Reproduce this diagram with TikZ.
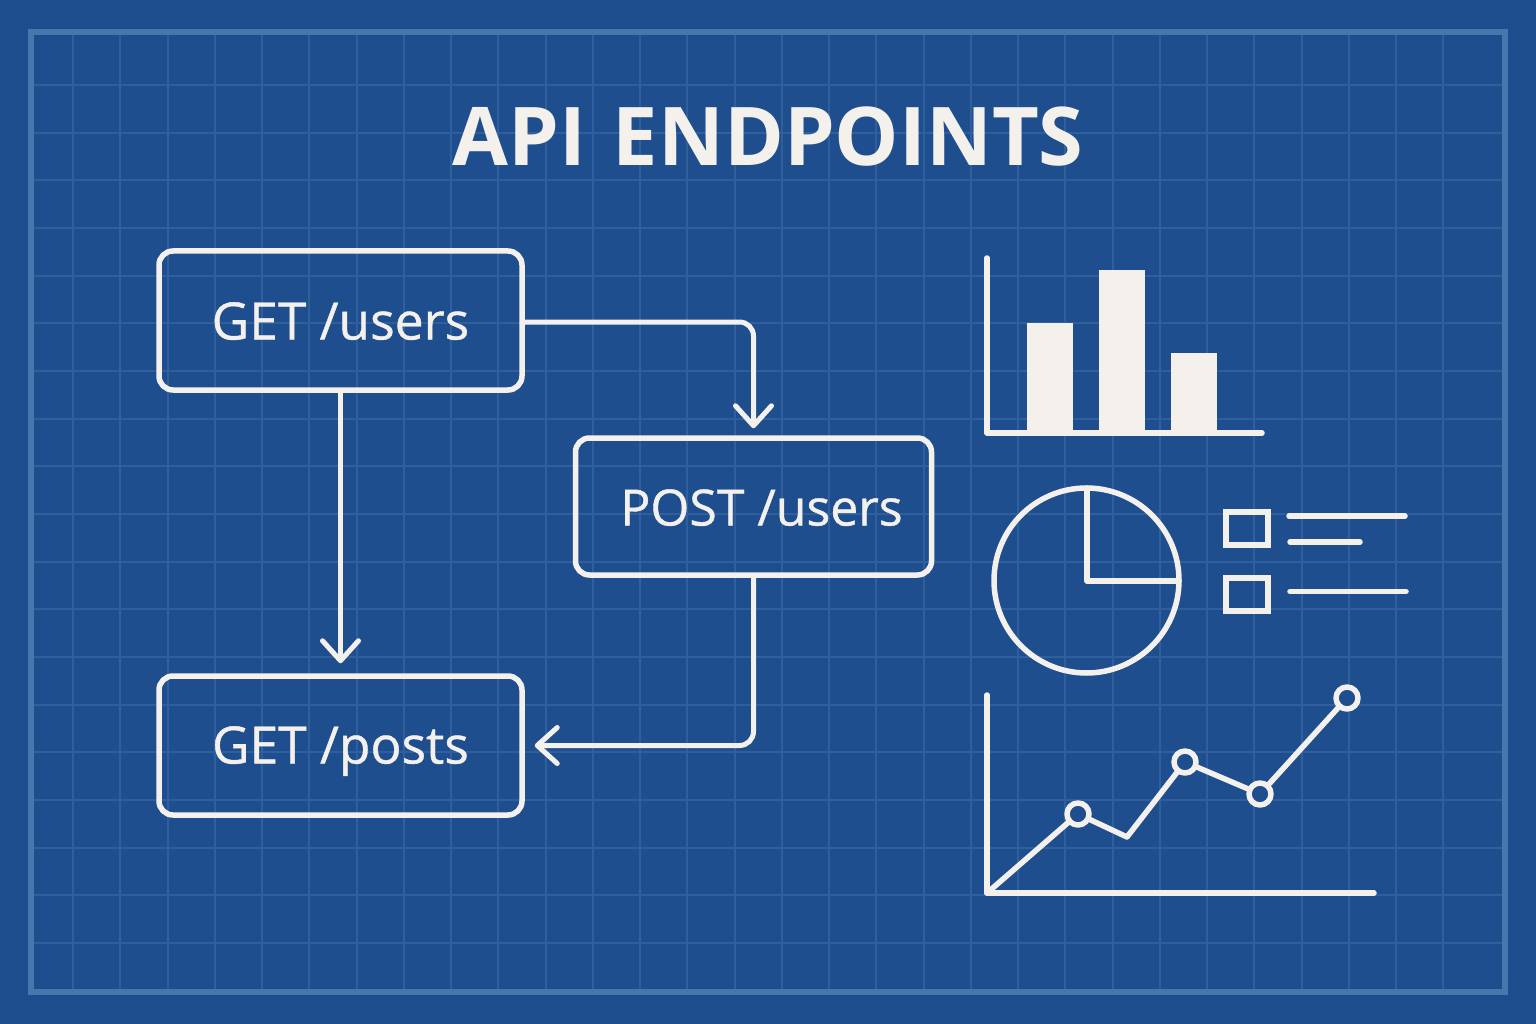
\documentclass[tikz,border=0pt]{standalone}
\usepackage{fontspec}
\setmainfont{Open Sans}
\newfontfamily\labelfont[FakeBold=0.8]{Open Sans}
\usetikzlibrary{arrows.meta}
\definecolor{paper}{HTML}{1F4E8F}
\definecolor{gridline}{HTML}{2F5F9D}
\definecolor{frameline}{HTML}{4A76AE}
\definecolor{chalk}{HTML}{F4F1EC}
\begin{document}
\begin{tikzpicture}[x=1pt,y=-1pt,
        box/.style={draw=chalk,line width=5.5pt,rounded corners=14pt,minimum width=363pt,minimum height=139pt,text=chalk,text height=44pt,text depth=6pt,font=\labelfont\fontsize{51.5}{54}\selectfont},
        link/.style={draw=chalk,line width=5pt,rounded corners=14pt,shorten >=10pt,-{Straight Barb[length=20pt,width=36pt,round]}},
        ink/.style={draw=chalk,line width=5.5pt,line cap=round,line join=round},
        dot/.style={ink,fill=paper}]
        \useasboundingbox (0,0) rectangle (1536,1024);
        \fill[paper] (0,0) rectangle (1536,1024);
        \foreach \k in {0,...,29} \draw[gridline,line width=2pt] (73+47.25*\k,33) -- (73+47.25*\k,990);
        \foreach \k in {0,...,18} \draw[gridline,line width=2pt] (33,85+47.67*\k) -- (1503,85+47.67*\k);
        \draw[frameline,line width=6pt] (31,32) rectangle (1505,991.5);
        \node (title) at (768,137) {\fontsize{81}{90}\selectfont\bfseries\color{chalk}API\hspace{6pt} ENDPOINTS};
        \node[box] (getusers) at (340.5,320.5) {GET /users};
        \node[box,minimum width=356pt,minimum height=137pt,font=\labelfont\fontsize{50}{54}\selectfont] (postusers) at (753.5,506.5) {\hspace{16pt}POST /users};
        \node[box,text height=42pt] (getposts) at (340.5,745.5) {GET /posts};
        \draw[link,shorten >=7pt] ([yshift=-1.5pt]getusers.east) -| (postusers.north);
        \draw[link] (getusers.south) -- (getposts.north);
        \draw[link] (postusers.south) |- (getposts.east);
        % bars
        \draw[ink] (987,258) -- (987,433) -- (1262,433);
        \foreach \x/\t in {1027/323,1099/270,1171/353} \fill[chalk] (\x,\t) rectangle (\x+46,432);
        % pie
        \draw[ink] (1086.5,580.5) circle (92.5);
        \draw[ink] (1087,488) -- (1087,581) -- (1179,581);
        % legend
        \draw[ink,line cap=butt,line join=miter] (1226,512) rectangle (1268,545);
        \draw[ink,line cap=butt,line join=miter] (1226,578) rectangle (1268,611);
        \draw[ink] (1289,516) -- (1405,516);
        \draw[ink] (1290,542) -- (1360,542);
        \draw[ink] (1290,591.5) -- (1406,591.5);
        % line chart
        \draw[ink] (987,695) -- (987,893) -- (1374,893);
        \draw[ink] (987,893) -- (1078,814) -- (1127,837) -- (1185,762) -- (1260,794) -- (1347,698);
        \foreach \x/\y in {1078/814,1185/762,1260/794,1347/698} \draw[dot] (\x,\y) circle (11);
\end{tikzpicture}
\end{document}
